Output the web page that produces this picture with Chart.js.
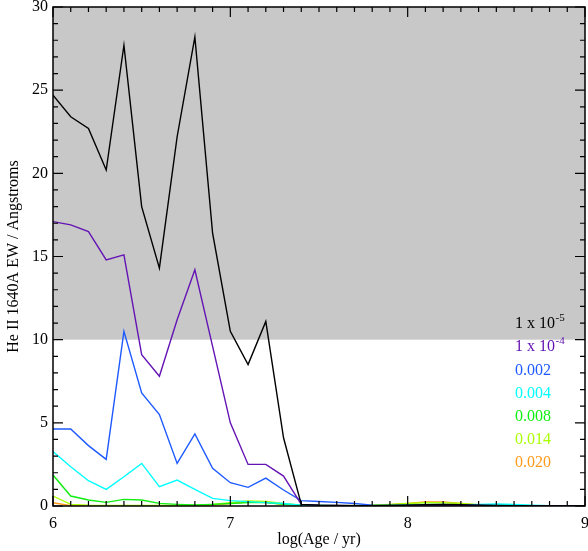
<!DOCTYPE html>
<html>
<head>
<meta charset="utf-8">
<script src="https://cdn.jsdelivr.net/npm/chart.js@4/dist/chart.umd.min.js"></script>
<style>
  html, body { margin: 0; padding: 0; background: #fff; }
  #wrap { width: 588px; height: 551px; }
</style>
</head>
<body>
<div id="wrap"><canvas id="ewChart"></canvas></div>
<script>
const ages = [6.0, 6.1, 6.2, 6.3, 6.4, 6.5, 6.6, 6.7, 6.8, 6.9,
	7.0, 7.1, 7.2, 7.3, 7.4, 7.5, 7.6, 7.7, 7.8, 7.9,
	8.0, 8.1, 8.2, 8.3, 8.4, 8.5, 8.6, 8.7, 8.8, 8.9, 9.0];

const ewZ1e5 = [24.7, 23.4, 22.7, 20.2, 27.7, 18.0, 14.3, 22.2, 28.2, 16.4,
	10.5, 8.5, 11.1, 4.1, 0.1, 0.05, 0.03, 0.02, 0.02, 0.03,
	0.05, 0.08, 0.1, 0.08, 0.05, 0.03, 0.02, 0.01, 0.01, 0.01, 0.01];
const ewZ1e4 = [17.1, 16.9, 16.5, 14.8, 15.1, 9.1, 7.8, 11.2, 14.2, 9.6,
	5.0, 2.5, 2.5, 1.8, 0.1, 0.05, 0.03, 0.02, 0.02, 0.02,
	0.03, 0.05, 0.05, 0.04, 0.03, 0.02, 0.02, 0.01, 0.01, 0.01, 0.01];
const ewZ002 = [4.63, 4.63, 3.63, 2.8, 10.5, 6.8, 5.5, 2.56, 4.33, 2.26,
	1.4, 1.12, 1.68, 0.96, 0.32, 0.27, 0.22, 0.15, 0.05, 0.03,
	0.03, 0.04, 0.04, 0.03, 0.03, 0.02, 0.02, 0.01, 0.01, 0.01, 0.01];
const ewZ004 = [3.27, 2.36, 1.52, 1.0, 1.76, 2.56, 1.16, 1.56, 1.0, 0.46,
	0.32, 0.26, 0.2, 0.15, 0.05, 0.03, 0.02, 0.02, 0.02, 0.02,
	0.03, 0.04, 0.05, 0.06, 0.1, 0.12, 0.1, 0.05, 0.02, 0.01, 0.01];
const ewZ008 = [1.86, 0.6, 0.36, 0.22, 0.4, 0.36, 0.16, 0.1, 0.06, 0.1,
	0.15, 0.2, 0.2, 0.1, 0.05, 0.03, 0.02, 0.02, 0.03, 0.05,
	0.08, 0.1, 0.1, 0.08, 0.08, 0.06, 0.04, 0.02, 0.01, 0.01, 0.01];
const ewZ014 = [0.6, 0.1, 0.05, 0.04, 0.04, 0.04, 0.03, 0.03, 0.03, 0.1,
	0.2, 0.3, 0.28, 0.15, 0.05, 0.03, 0.02, 0.03, 0.05, 0.1,
	0.15, 0.2, 0.2, 0.15, 0.08, 0.05, 0.03, 0.02, 0.01, 0.01, 0.01];
const ewZ020 = [0.2, 0.02, 0.01, 0.01, 0.01, 0.01, 0.01, 0.01, 0.02, 0.05,
	0.15, 0.25, 0.22, 0.1, 0.02, 0.01, 0.01, 0.02, 0.04, 0.08,
	0.15, 0.25, 0.25, 0.15, 0.05, 0.02, 0.01, 0.01, 0.01, 0.01, 0.01];

const seriesLabels = ["1 x 10|-5", "1 x 10|-4", "0.002", "0.004", "0.008", "0.014", "0.020"];
const seriesColors = ["#000000", "#6414b4", "#1e5aff", "#00ffff", "#11ee11", "#aaff00", "#ff9a1a"];
const seriesValues = [ewZ1e5, ewZ1e4, ewZ002, ewZ004, ewZ008, ewZ014, ewZ020];

const yTickLabels = [0, 5, 10, 15, 20, 25, 30];
const xTickLabels = [6, 7, 8, 9];
const shadeFrom = 10;
const shadeTo = 30;

const serif = "'Liberation Serif', 'DejaVu Serif', serif";

// grey band, frame, inward ticks, legend with superscripts
const decorPlugin = {
	id: 'decor',
	beforeDatasetsDraw(chart) {
		const {ctx, chartArea, scales} = chart;
		const yTop = scales.y.getPixelForValue(shadeTo);
		const yBot = scales.y.getPixelForValue(shadeFrom);
		ctx.save();
		ctx.fillStyle = '#c8c8c8';
		ctx.fillRect(chartArea.left, yTop, chartArea.right - chartArea.left, yBot - yTop);
		ctx.restore();
	},
	afterDatasetsDraw(chart) {
		const {ctx, chartArea, scales} = chart;
		const {left, right, top, bottom} = chartArea;
		ctx.save();
		ctx.strokeStyle = '#000';
		ctx.lineWidth = 1.5;
		ctx.strokeRect(left, top, right - left, bottom - top);

		ctx.lineWidth = 1.2;
		ctx.beginPath();
		for (let i = 60; i <= 90; i++) {
			const v = i / 10;
			const len = (i % 10 == 0) ? 10 : 5;
			const px = scales.x.getPixelForValue(v);
			ctx.moveTo(px, bottom); ctx.lineTo(px, bottom - len);
			ctx.moveTo(px, top); ctx.lineTo(px, top + len);
		}
		for (let v = 0; v <= 30; v++) {
			const len = (v % 5 == 0) ? 10 : 5;
			const py = scales.y.getPixelForValue(v);
			ctx.moveTo(left, py); ctx.lineTo(left + len, py);
			ctx.moveTo(right, py); ctx.lineTo(right - len, py);
		}
		ctx.stroke();

		// legend
		ctx.textBaseline = 'middle';
		ctx.textAlign = 'left';
		const lx = 515;
		seriesLabels.forEach((lab, i) => {
			const ly = 324 + i * 23.2;
			const parts = lab.split('|');
			ctx.fillStyle = seriesColors[i];
			ctx.font = '16px ' + serif;
			ctx.fillText(parts[0], lx, ly);
			if (parts.length > 1) {
				const w = ctx.measureText(parts[0]).width;
				ctx.font = '11px ' + serif;
				ctx.fillText(parts[1], lx + w + 0.5, ly - 6);
			}
		});
		ctx.restore();
	}
};

new Chart(document.getElementById("ewChart"), {
	type: 'line',
	data: {
		datasets: seriesValues.map((vals, i) => ({
			label: seriesLabels[i],
			data: ages.map((a, j) => ({x: a, y: vals[j]})),
			borderColor: seriesColors[i],
			borderWidth: 1.4,
			pointRadius: 0,
			tension: 0,
			fill: false
		}))
	},
	options: {
		responsive: true,
		maintainAspectRatio: false,
		animation: false,
		layout: { padding: { top: 7, right: 3, left: 0, bottom: 0 } },
		plugins: {
			legend: { display: false },
			tooltip: { enabled: false }
		},
		scales: {
			x: {
				type: 'linear',
				min: 6,
				max: 9,
				grid: { display: false, drawTicks: false },
				border: { display: false },
				afterFit(scale) {
					scale.height = 45;
					scale.paddingLeft = 0;
					scale.paddingRight = 0;
				},
				afterBuildTicks(scale) { scale.ticks = xTickLabels.map(v => ({value: v})); },
				ticks: {
					color: '#000',
					padding: 8,
					maxRotation: 0,
					font: { family: serif, size: 16 },
					callback: v => String(v)
				},
				title: {
					display: true,
					text: 'log(Age / yr)',
					color: '#000',
					padding: { top: 0, bottom: 2 },
					font: { family: serif, size: 16 }
				}
			},
			y: {
				min: 0,
				max: 30,
				grid: { display: false, drawTicks: false },
				border: { display: false },
				afterFit(scale) {
					scale.width = 53;
					scale.paddingTop = 0;
					scale.paddingBottom = 0;
				},
				afterBuildTicks(scale) { scale.ticks = yTickLabels.map(v => ({value: v})); },
				ticks: {
					color: '#000',
					padding: 5,
					font: { family: serif, size: 16 },
					callback: v => String(v)
				},
				title: {
					display: true,
					text: 'He II 1640A EW / Angstroms',
					color: '#000',
					padding: { top: 4, bottom: 0 },
					font: { family: serif, size: 16 }
				}
			}
		}
	},
	plugins: [decorPlugin]
});
</script>
</body>
</html>
